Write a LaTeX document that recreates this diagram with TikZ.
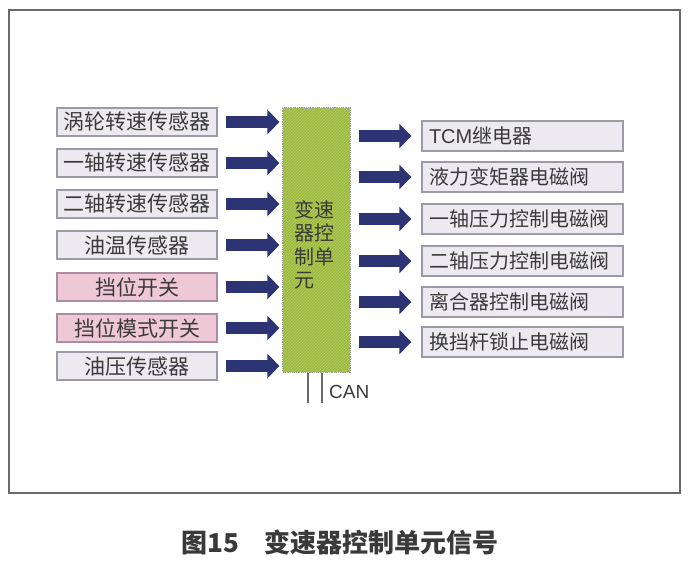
\documentclass[tikz,border=0pt]{standalone}
\usepackage{fontspec}
\setmainfont{Noto Sans CJK SC}
\newfontfamily\latinfont{Liberation Sans}
\usetikzlibrary{arrows.meta,patterns}
\definecolor{framegray}{HTML}{6A6A6A}
\definecolor{boxgray}{HTML}{ECEAF0}
\definecolor{boxline}{HTML}{9C9AA6}
\definecolor{boxpink}{HTML}{EFC8D6}
\definecolor{pinkline}{HTML}{A88E9E}
\definecolor{ecugreen}{HTML}{9DBA40}
\definecolor{ecuhatch}{HTML}{B4CC62}
\definecolor{arrowblue}{HTML}{2C3473}
\definecolor{textgray}{HTML}{3A3A3A}
\tikzset{
  inbox/.style={draw=boxline, fill=boxgray, line width=1.4pt, minimum width=160pt,
    minimum height=28pt, inner sep=0pt, text=textgray, font=\fontsize{21}{21}\selectfont},
  pinkbox/.style={inbox, draw=pinkline, fill=boxpink},
  outbox/.style={draw=boxline, fill=boxgray, line width=1.4pt, minimum width=201pt,
    minimum height=30pt, inner sep=0pt, text width=187pt, align=left, text=textgray,
    font=\fontsize{20}{20}\selectfont},
  bigarrow/.style={draw=arrowblue, line width=12pt, -{Triangle[width=24pt,length=12pt]}},
}
\begin{document}
\begin{tikzpicture}[x=1pt, y=-1pt]
  \useasboundingbox (0,0) rectangle (693,567);
  % frame
  \draw[framegray, line width=1.5pt] (9,10) rectangle (680,493);
  % control unit
  \node[draw=boxline, densely dotted, line width=1.2pt, fill=ecugreen, minimum width=67pt,
    minimum height=264pt, inner sep=0pt] (ecu) at (316.5,240) {};
  \fill[pattern=north east lines, pattern color=ecuhatch] (ecu.south west) rectangle (ecu.north east);
  \node[text width=40pt, align=left, text=textgray, font=\fontsize{20}{23.5}\selectfont]
    (ecutext) at (314,245) {变速\\器控\\制单\\元};
  % inputs
  \node[inbox] (in1) at (137,122) {涡轮转速传感器};
  \node[inbox] (in2) at (137,163) {一轴转速传感器};
  \node[inbox] (in3) at (137,204) {二轴转速传感器};
  \node[inbox] (in4) at (137,245) {油温传感器};
  \node[pinkbox] (in5) at (137,287) {挡位开关};
  \node[pinkbox] (in6) at (137,328) {挡位模式开关};
  \node[inbox] (in7) at (137,366) {油压传感器};
  \draw[bigarrow, shorten <=8pt, shorten >=3pt] (in1.east) -- (ecu.west |- in1);
  \draw[bigarrow, shorten <=8pt, shorten >=3pt] (in2.east) -- (ecu.west |- in2);
  \draw[bigarrow, shorten <=8pt, shorten >=3pt] (in3.east) -- (ecu.west |- in3);
  \draw[bigarrow, shorten <=8pt, shorten >=3pt] (in4.east) -- (ecu.west |- in4);
  \draw[bigarrow, shorten <=8pt, shorten >=3pt] (in5.east) -- (ecu.west |- in5);
  \draw[bigarrow, shorten <=8pt, shorten >=3pt] (in6.east) -- (ecu.west |- in6);
  \draw[bigarrow, shorten <=8pt, shorten >=3pt] (in7.east) -- (ecu.west |- in7);
  % outputs
  \node[outbox] (out1) at (522.5,136) {{\latinfont TCM}继电器};
  \node[outbox] (out2) at (522.5,177) {液力变矩器电磁阀};
  \node[outbox] (out3) at (522.5,219) {一轴压力控制电磁阀};
  \node[outbox] (out4) at (522.5,261) {二轴压力控制电磁阀};
  \node[outbox] (out5) at (522.5,302) {离合器控制电磁阀};
  \node[outbox] (out6) at (522.5,342) {换挡杆锁止电磁阀};
  \draw[bigarrow, shorten <=8pt, shorten >=10pt] (ecu.east |- out1) -- (out1.west);
  \draw[bigarrow, shorten <=8pt, shorten >=10pt] (ecu.east |- out2) -- (out2.west);
  \draw[bigarrow, shorten <=8pt, shorten >=10pt] (ecu.east |- out3) -- (out3.west);
  \draw[bigarrow, shorten <=8pt, shorten >=10pt] (ecu.east |- out4) -- (out4.west);
  \draw[bigarrow, shorten <=8pt, shorten >=10pt] (ecu.east |- out5) -- (out5.west);
  \draw[bigarrow, shorten <=8pt, shorten >=10pt] (ecu.east |- out6) -- (out6.west);
  % CAN bus
  \coordinate (can1) at ([xshift=-8.5pt]ecu.south);
  \coordinate (can2) at ([xshift=5.5pt]ecu.south);
  \draw[framegray, line width=1.5pt] (can1) -- ++(0,30);
  \draw[framegray, line width=1.5pt] (can2) -- ++(0,30);
  \node[anchor=west, inner sep=0pt, text=textgray, font=\latinfont\fontsize{19}{19}\selectfont]
    (canlabel) at (329,392) {CAN};
  % caption
  \node[text=textgray, font=\bfseries\fontsize{26}{26}\selectfont] (caption) at (340,542)
    {图15\hspace{1em}变速器控制单元信号};
\end{tikzpicture}
\end{document}
